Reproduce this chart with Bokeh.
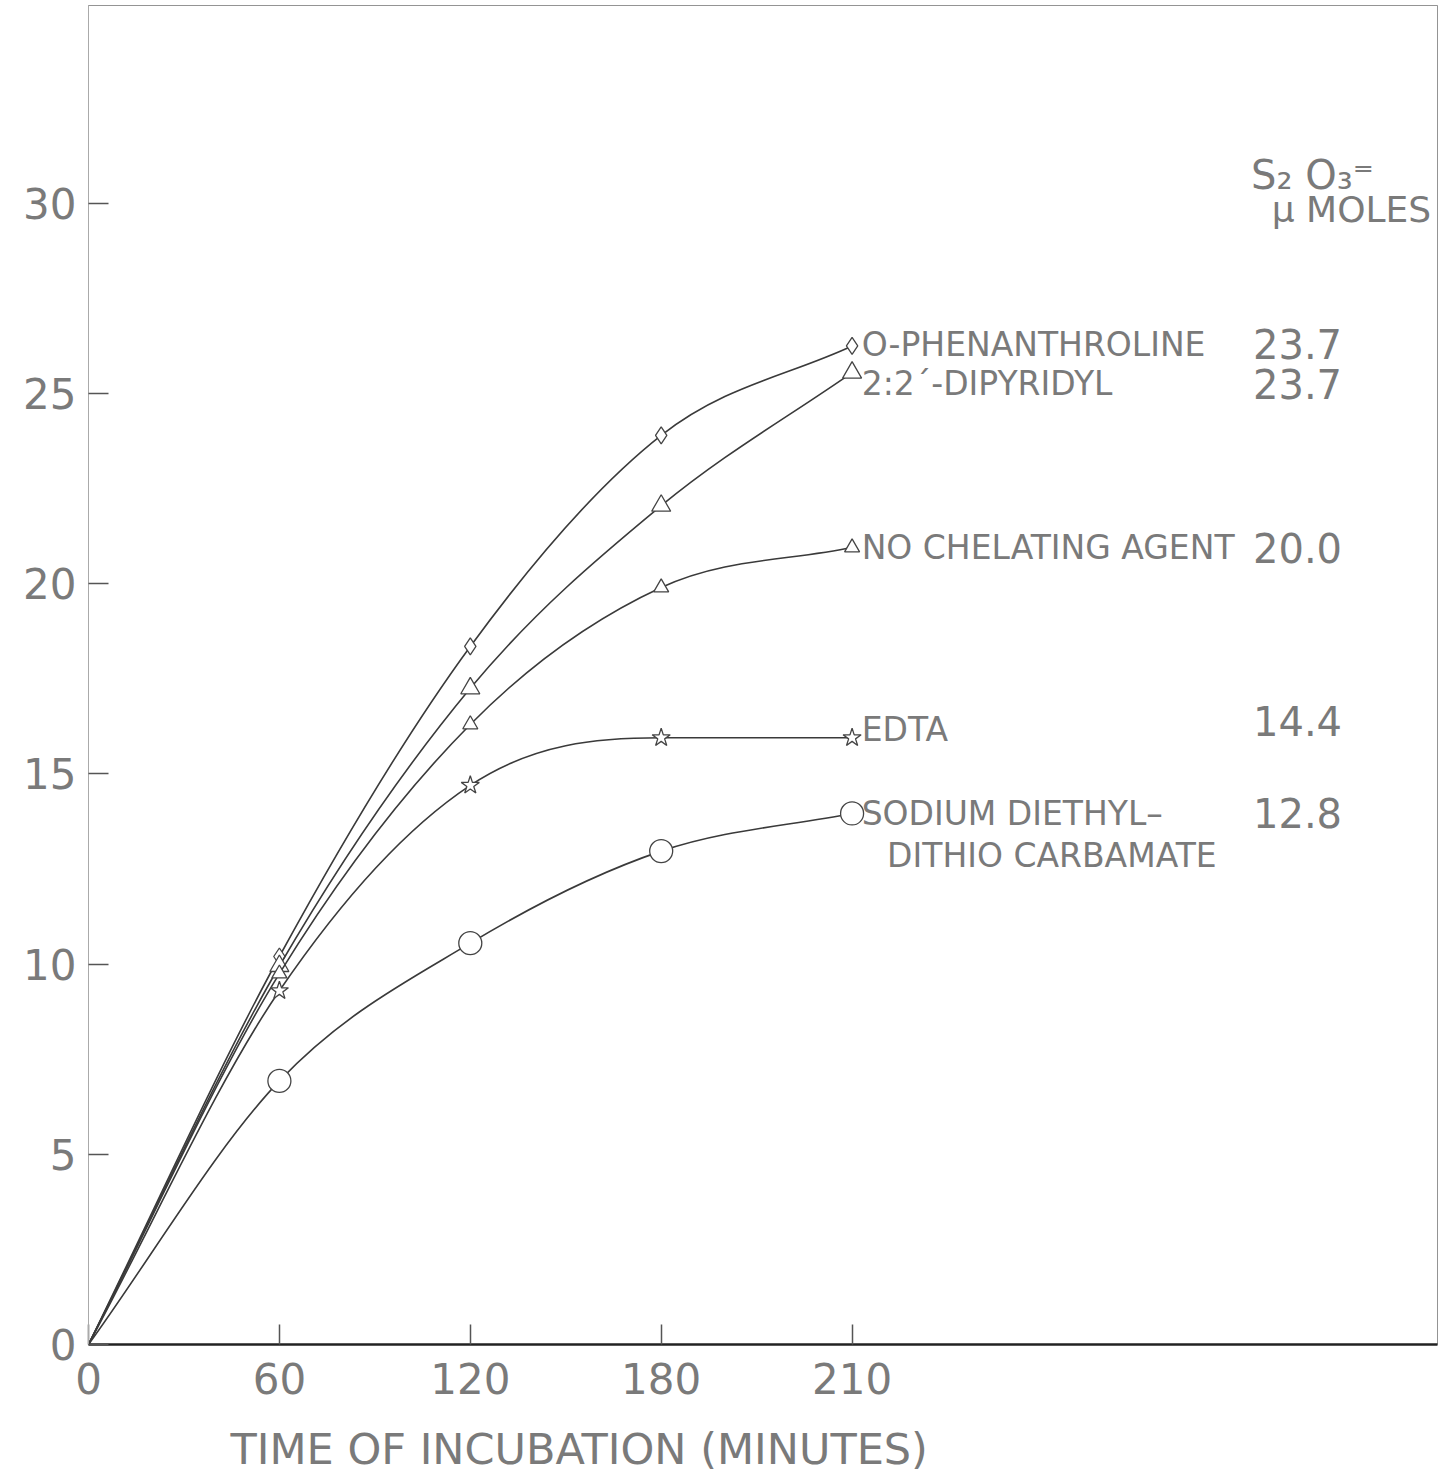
from bokeh.plotting import figure
from bokeh.models import Range1d, FixedTicker, Title, ColumnDataSource
from bokeh.core.properties import value
from bokeh.embed import file_html
from bokeh.resources import INLINE

# ---- data ----
time_min = [0, 60, 120, 180, 240]
x_tick_labels = ["0", "60", "120", "180", "210"]
y_ticks = [0, 5, 10, 15, 20, 25, 30]

o_phenanthroline = [0, 10.2, 18.35, 23.9, 26.25]
dipyridyl = [0, 9.95, 17.25, 22.05, 25.55]
no_chelating = [0, 9.75, 16.3, 19.9, 20.95]
edta = [0, 9.3, 14.7, 15.95, 15.95]
sodium_dtc = [0, 6.93, 10.55, 12.97, 13.96]

series_names = ["O-PHENANTHROLINE", "2:2\u00b4-DIPYRIDYL", "NO CHELATING AGENT", "EDTA",
                "SODIUM DIETHYL\u2013"]
series_totals = ["23.7", "23.7", "20.0", "14.4", "12.8"]
name_y = [26.3, 25.25, 20.95, 16.17, 13.96]
total_y = [26.3, 25.25, 20.95, 16.4, 13.96]
second_line = "DITHIO CARBAMATE"
second_line_y = 12.86

FONT = value("DejaVu Sans")
TXT = "#7a7a7a"
LINE = "#3a3a3a"

p = figure(width=1438, height=1475, x_range=Range1d(0, 424), y_range=Range1d(0, 35.2),
           output_backend="svg", toolbar_location=None,
           min_border_left=88, min_border_right=1, min_border_top=5, min_border_bottom=128)
p.background_fill_color = "white"
p.border_fill_color = "white"
p.outline_line_color = "#666666"
p.outline_line_alpha = 0.7
p.xgrid.visible = False
p.ygrid.visible = False

p.xaxis.ticker = FixedTicker(ticks=time_min)
p.xaxis.major_label_overrides = {t: l for t, l in zip(time_min, x_tick_labels)}
p.yaxis.ticker = FixedTicker(ticks=y_ticks)
for ax in (p.xaxis, p.yaxis):
    ax.major_tick_in = 20
    ax.major_tick_out = 0
    ax.minor_tick_line_color = None
    ax.major_label_text_font = "DejaVu Sans"
    ax.major_label_text_font_size = "42px"
    ax.major_label_text_color = TXT
    ax.major_tick_line_color = "#555555"
    ax.major_tick_line_width = 1.5
p.xaxis.axis_line_color = "#222222"
p.xaxis.axis_line_width = 2.5
p.yaxis.axis_line_color = "#aaaaaa"
p.yaxis.axis_line_width = 1
p.xaxis.major_label_standoff = 18
p.yaxis.major_label_standoff = 12
# blank spacer between tick labels and the title below
p.xaxis.axis_label = " "
p.xaxis.axis_label_text_font_size = "12px"
p.xaxis.axis_label_standoff = 6


def monotone_bezier(xs, ys):
    """Cubic Bezier segments through the data points (monotone Hermite tangents)."""
    n = len(xs)
    d = [(ys[i + 1] - ys[i]) / (xs[i + 1] - xs[i]) for i in range(n - 1)]
    m = [0.0] * n
    m[0] = d[0]
    m[-1] = d[-1]
    for i in range(1, n - 1):
        if d[i - 1] * d[i] <= 0:
            m[i] = 0.0
        else:
            m[i] = (d[i - 1] + d[i]) / 2.0
    out = dict(x0=[], y0=[], x1=[], y1=[], cx0=[], cy0=[], cx1=[], cy1=[])
    for i in range(n - 1):
        h = xs[i + 1] - xs[i]
        out["x0"].append(xs[i]); out["y0"].append(ys[i])
        out["x1"].append(xs[i + 1]); out["y1"].append(ys[i + 1])
        out["cx0"].append(xs[i] + h / 3.0); out["cy0"].append(ys[i] + m[i] * h / 3.0)
        out["cx1"].append(xs[i + 1] - h / 3.0); out["cy1"].append(ys[i + 1] - m[i + 1] * h / 3.0)
    return out


series = [
    (o_phenanthroline, "diamond", 17),
    (dipyridyl, "triangle", 19),
    (no_chelating, "triangle", 15),
    (edta, "star", 19),
    (sodium_dtc, "circle", 23),
]
for ys, marker, size in series:
    src = ColumnDataSource(monotone_bezier(time_min, ys))
    p.bezier(x0="x0", y0="y0", x1="x1", y1="y1", cx0="cx0", cy0="cy0", cx1="cx1", cy1="cy1",
             source=src, line_color=LINE, line_width=1.6)
    p.scatter(time_min[1:], ys[1:], marker=marker, size=size, fill_color="white",
              line_color="#444444", line_width=1.3)

# series names to the right of the last point
p.text(x=[243] * len(series_names), y=name_y, text=series_names, text_font=FONT,
       text_font_size="33px", text_color=TXT, text_baseline="middle", text_align="left")
p.text(x=[251], y=[second_line_y], text=[second_line], text_font=FONT,
       text_font_size="33px", text_color=TXT, text_baseline="middle", text_align="left")
# totals column
p.text(x=[394] * len(series_totals), y=total_y, text=series_totals, text_font=FONT,
       text_font_size="40px", text_color=TXT, text_baseline="middle", text_align="right")
# header
p.text(x=[404], y=[30.75], text=["S\u2082 O\u2083\u207c"], text_font=FONT,
       text_font_size="40px", text_color=TXT, text_baseline="middle", text_align="right")
p.text(x=[422], y=[29.85], text=["\u03bc MOLES"], text_font=FONT,
       text_font_size="36px", text_color=TXT, text_baseline="middle", text_align="right")

p.add_layout(Title(text="TIME OF INCUBATION (MINUTES)", align="left", offset=142,
                   vertical_align="bottom",
                   text_font="DejaVu Sans", text_font_size="43px", text_color=TXT,
                   text_font_style="normal", standoff=4), "below")

open("out.html", "w").write(file_html(p, INLINE))
